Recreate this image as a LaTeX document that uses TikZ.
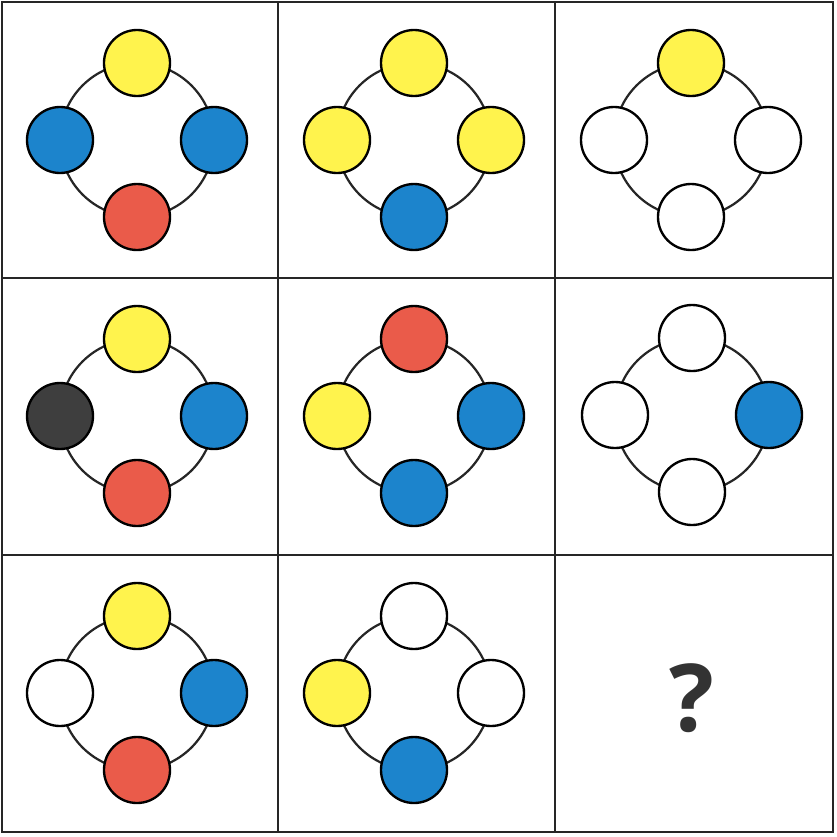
\documentclass[tikz,border=0pt]{standalone}
\usepackage{fontspec}
\usepackage{tikz}
\usetikzlibrary{backgrounds}

\newfontfamily\qfont{Open Sans}

\definecolor{puzYellow}{RGB}{255,243,77}
\definecolor{puzBlue}{RGB}{28,132,204}
\definecolor{puzRed}{RGB}{234,91,74}
\definecolor{puzBlack}{RGB}{62,62,62}
\definecolor{puzWhite}{RGB}{255,255,255}

\begin{document}
\begin{tikzpicture}[
      x=0.03cm, y=-0.03cm,
      dot/.style={
        circle, draw=black, line width=2pt,
        minimum size=1.98cm, inner sep=0pt
      },
      ring/.style={draw=black!85, line width=1.9pt},
      gridLine/.style={draw=black!85, line width=1.8pt},
      qMark/.style={font=\fontsize{80}{80}\selectfont\qfont\bfseries, text=black!80}
    ]

      \useasboundingbox (0,0) rectangle (837,837);

      % ---------- Luoi 3x3 ----------
      \draw[gridLine] (2,2) rectangle (833,832);
      \draw[gridLine] (278,2) -- (278,832);
      \draw[gridLine] (555,2) -- (555,832);
      \draw[gridLine] (2,278) -- (833,278);
      \draw[gridLine] (2,555) -- (833,555);

      % ---------- Cac o: tam, tren, trai, phai, duoi ----------
      \foreach \cx/\cy/\ct/\cl/\cr/\cb [count=\n] in {
          137/140/puzYellow/puzBlue/puzBlue/puzRed,
          414/140/puzYellow/puzYellow/puzYellow/puzBlue,
          691/140/puzYellow/puzWhite/puzWhite/puzWhite,
          137/416/puzYellow/puzBlack/puzBlue/puzRed,
          414/416/puzRed/puzYellow/puzBlue/puzBlue,
          692/415/puzWhite/puzWhite/puzBlue/puzWhite,
          137/693/puzYellow/puzWhite/puzBlue/puzRed,
          414/693/puzWhite/puzYellow/puzWhite/puzBlue} {
        \node[dot, fill=\ct] (t\n) at (\cx, \cy-77) {};
        \node[dot, fill=\cl] (l\n) at (\cx-77, \cy) {};
        \node[dot, fill=\cr] (r\n) at (\cx+77, \cy) {};
        \node[dot, fill=\cb] (b\n) at (\cx, \cy+77) {};
        % vong noi giua cac hinh tron
        \begin{scope}[on background layer]
          \draw[ring] (t\n.center) to[bend left=45] (r\n.center);
          \draw[ring] (r\n.center) to[bend left=45] (b\n.center);
          \draw[ring] (b\n.center) to[bend left=45] (l\n.center);
          \draw[ring] (l\n.center) to[bend left=45] (t\n.center);
        \end{scope}
      }

      % ---------- O con thieu ----------
      \node[qMark] (missing) at (692,698) {?};

    \end{tikzpicture}
\end{document}
